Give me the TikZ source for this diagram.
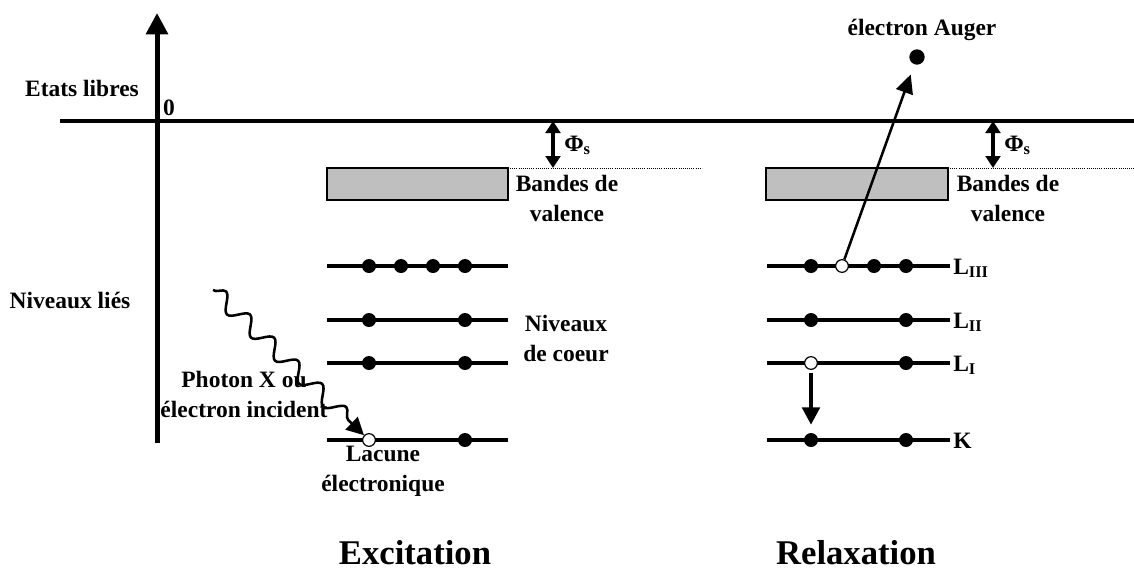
\documentclass[tikz,border=0pt]{standalone}
\usepackage{fontspec}
\setmainfont{Liberation Serif}
\usetikzlibrary{arrows.meta, decorations.pathmorphing}

\tikzset{
  txt/.style={font=\fontsize{17.6}{22.5}\selectfont\bfseries, inner sep=0pt, align=center},
  big/.style={font=\fontsize{26}{30}\selectfont\bfseries, inner sep=0pt},
  level/.style={line width=3pt},
  dot/.style={circle, fill, inner sep=0pt, minimum size=10.5pt},
  hole/.style={circle, draw, fill=white, line width=0.9pt, inner sep=0pt, minimum size=9.5pt},
  band/.style={draw, fill=black!25, line width=2pt},
  gap/.style={line width=3pt, {Triangle[length=9pt,width=11pt]}-{Triangle[length=9pt,width=11pt]}},
  fall/.style={line width=3pt, -{Triangle[length=13pt,width=13pt]}},
  wave/.style={line width=1.9pt, -{Triangle[length=13pt,width=13pt]},
    decorate, decoration={snake, amplitude=6pt, segment length=25pt, post length=16pt}},
}

\begin{document}
\begin{tikzpicture}[x=0.75pt, y=-0.75pt]
\useasboundingbox (0,0) rectangle (1134,572);

% axes
\coordinate (ybot) at (157,443);
\coordinate (ytop) at (157,13);
\coordinate (vleft) at (60,121);
\coordinate (vright) at (1134,121);
\draw[line width=3.75pt, -{Triangle[length=16pt,width=16pt]}] (ybot) -- (ytop);
\draw[line width=3pt] (vleft) -- (vright);
\node[txt] (etats) at (82,88) {Etats libres};
\node[txt] (zero) at (169,108) {0};
\node[txt] (lies) at (70,300) {Niveaux liés};

% excitation
\draw[band] (327,168) rectangle (508,200);
\draw[densely dotted, line width=0.6pt] (510,168) -- (702,168);
\coordinate (ga) at (553,121);
\coordinate (gb) at (553,168);
\draw[gap] (ga) -- (gb);
\node[txt, anchor=base west] (phia) at (564,151) {Φ\textsubscript{s}};
\node[txt] (banda) at (567,198) {Bandes de\\valence};

\draw[level] (327,266) -- (508,266);
\draw[level] (327,320) -- (508,320);
\draw[level] (327,363) -- (508,363);
\draw[level] (327,440) -- (508,440);
\node[dot] (a31) at (369,266) {};
\node[dot] (a32) at (401,266) {};
\node[dot] (a33) at (433,266) {};
\node[dot] (a34) at (465,266) {};
\node[dot] (a21) at (369,320) {};
\node[dot] (a22) at (465,320) {};
\node[dot] (a11) at (369,363) {};
\node[dot] (a12) at (465,363) {};
\node[hole] (ak1) at (369,440) {};
\node[dot] (ak2) at (465,440) {};
\node[txt] (coeur) at (566,338) {Niveaux\\de coeur};

\coordinate (xin) at (213,290);
\draw[wave] (xin) -- (ak1);
\node[txt] (photon) at (244,394) {Photon X ou\\électron incident};
\node[txt] (lacune) at (383,471) {Lacune\\électronique};
\node[big] (exc) at (415,553) {Excitation};

% relaxation
\draw[band] (766,168) rectangle (948,200);
\draw[densely dotted, line width=0.6pt] (950,168) -- (1134,168);
\coordinate (gc) at (993,121);
\coordinate (gd) at (993,168);
\draw[gap] (gc) -- (gd);
\node[txt, anchor=base west] (phib) at (1004,151) {Φ\textsubscript{s}};
\node[txt] (bandb) at (1008,198) {Bandes de\\valence};

\draw[level] (767,266) -- (950,266);
\draw[level] (767,320) -- (950,320);
\draw[level] (767,363) -- (950,363);
\draw[level] (767,440) -- (950,440);
\node[dot] (b31) at (811,266) {};
\node[hole] (b32) at (842,266) {};
\node[dot] (b33) at (874,266) {};
\node[dot] (b34) at (906,266) {};
\node[dot] (b21) at (811,320) {};
\node[dot] (b22) at (906,320) {};
\node[hole] (b11) at (811,363) {};
\node[dot] (b12) at (906,363) {};
\node[dot] (bk1) at (811,440) {};
\node[dot] (bk2) at (906,440) {};
\node[txt, anchor=base west] (l3) at (953,274) {L\textsubscript{III}};
\node[txt, anchor=base west] (l2) at (953,328) {L\textsubscript{II}};
\node[txt, anchor=base west] (l1) at (953,371) {L\textsubscript{I}};
\node[txt, anchor=base west] (lk) at (953,448) {K};

\node[dot, minimum size=11.5pt] (auger) at (917,57) {};
\node[txt] (augtxt) at (922,30) {électron Auger};
\draw[line width=1.9pt, -{Triangle[length=14pt,width=13pt]}, shorten >=8pt] (b32) -- (auger);
\draw[fall, shorten <=2pt, shorten >=6pt] (b11) -- (bk1);
\node[big] (rel) at (856,553) {Relaxation};
\end{tikzpicture}
\end{document}
